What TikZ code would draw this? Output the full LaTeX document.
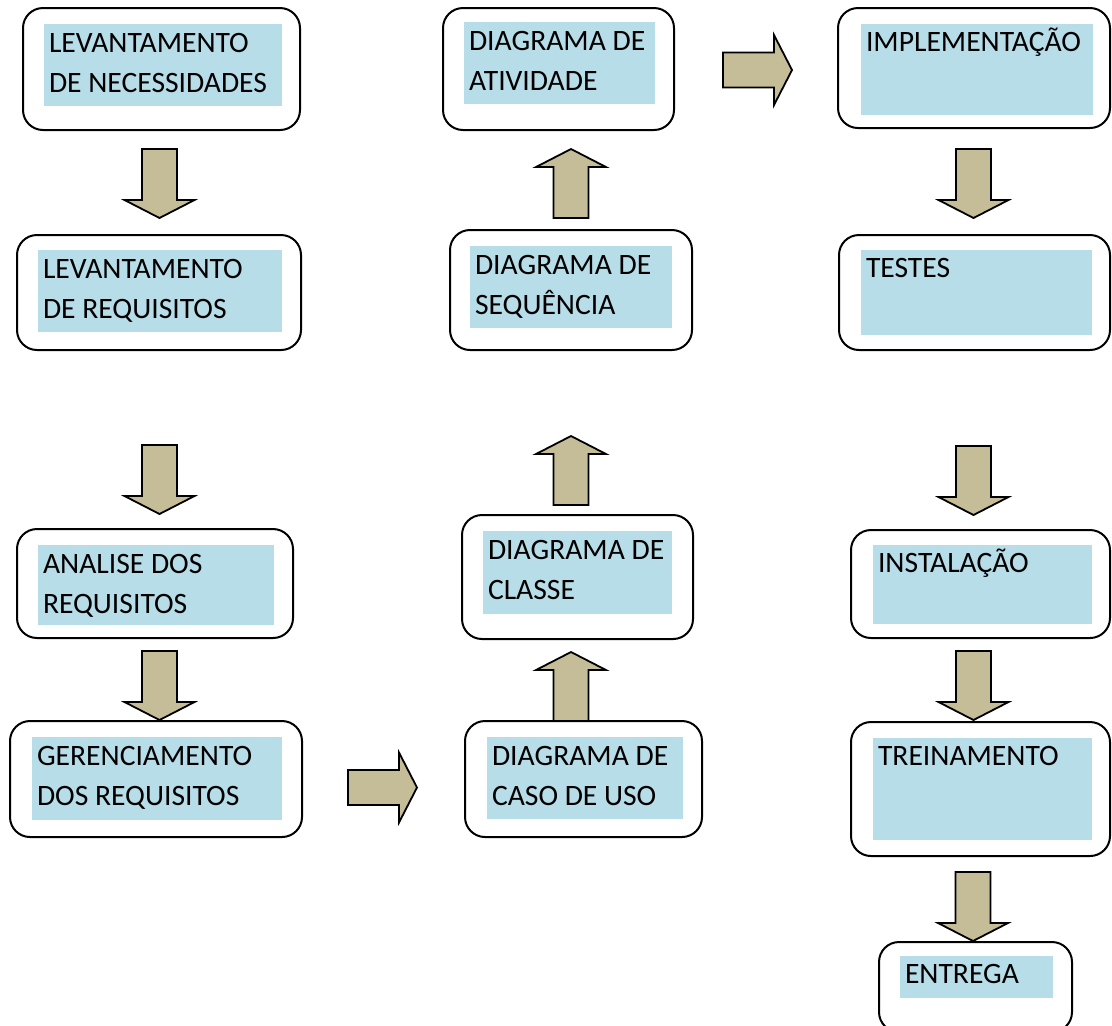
\documentclass[tikz,border=0pt]{standalone}
\usepackage{fontspec}
\setmainfont{Carlito}
\usetikzlibrary{fit}
\definecolor{stageblue}{RGB}{183,221,232}
\definecolor{arrowtan}{RGB}{196,189,151}
\tikzset{
  outerbox/.style={draw=black, line width=1pt, fill=white, rounded corners=10pt, inner sep=0pt},
  bluebox/.style={fill=stageblue, draw=none, inner sep=0pt},
  stagetext/.style={anchor=base west, inner sep=0pt, align=left,
    font=\fontsize{14.8}{20}\selectfont},
  pics/blockarrow/.style={code={
    \draw[line width=0.9pt, fill=arrowtan, line join=miter]
      (0,-17.5) -- (51,-17.5) -- (51,-35) -- (69,0) -- (51,35) -- (51,17.5) -- (0,17.5) -- cycle;
  }}
}
% #1 name, #2 outer corners, #3 inner corners, #4 text,
% #5 drop from the blue box top to the baseline of the last line
\newcommand\stage[5]{%
  \node[outerbox, fit={#2}] (#1) {};
  \node[bluebox, fit={#3}] (#1b) {};
  \node[stagetext] (#1t) at ([xshift=2.5pt, yshift=-#5]#1b.north west) {#4};
}
\begin{document}
\begin{tikzpicture}[x=0.5pt, y=-0.5pt]
\useasboundingbox (0,0) rectangle (1112,1025);

% left column
\stage{nec}{(23,8) (300,130)}{(44,24) (282,106)}{LEVANTAMENTO\\DE NECESSIDADES}{34.5pt}
\stage{req}{(17,235) (301,350)}{(38,250) (282,332)}{LEVANTAMENTO\\DE REQUISITOS}{34.5pt}
\stage{ana}{(17,529) (293,638)}{(38,545) (274,625)}{ANALISE DOS\\REQUISITOS}{34.5pt}
\stage{ger}{(10,721) (302,837)}{(32,737) (282,820)}{GERENCIAMENTO\\DOS REQUISITOS}{34.5pt}

% middle column
\stage{uso}{(465,721) (702,837)}{(487,737) (683,819)}{DIAGRAMA DE\\CASO DE USO}{34.5pt}
\stage{cla}{(462,515) (693,639)}{(483,531) (672,614)}{DIAGRAMA DE\\CLASSE}{34.5pt}
\stage{seq}{(450,230) (692,350)}{(470,246) (672,328)}{DIAGRAMA DE\\SEQUÊNCIA}{34.5pt}
\stage{ati}{(443,8) (674,130)}{(464,22) (655,104)}{DIAGRAMA DE\\ATIVIDADE}{34.5pt}

% right column
\stage{imp}{(838,8) (1110,128)}{(861,24) (1093,115)}{IMPLEMENTAÇÃO}{14pt}
\stage{tes}{(839,235) (1110,350)}{(861,250) (1092,335)}{TESTES}{14pt}
\stage{ins}{(851,530) (1110,638)}{(873,545) (1092,624)}{INSTALAÇÃO}{14pt}
\stage{tre}{(851,722) (1110,856)}{(873,738) (1092,840)}{TREINAMENTO}{14pt}
\stage{ent}{(879,942) (1072,1032)}{(900,956) (1053,998)}{ENTREGA}{14pt}

% block arrows between stages
\pic[rotate=-90] at (159.5,149) {blockarrow};
\pic[rotate=-90] at (159.5,445) {blockarrow};
\pic[rotate=-90] at (159.5,651) {blockarrow};
\pic at (348,787.5) {blockarrow};
\pic[rotate=90] at (571,721) {blockarrow};
\pic[rotate=90] at (571,505) {blockarrow};
\pic[rotate=90] at (571,218) {blockarrow};
\pic at (723,70) {blockarrow};
\pic[rotate=-90] at (973.5,149) {blockarrow};
\pic[rotate=-90] at (973.5,446) {blockarrow};
\pic[rotate=-90] at (973.5,651) {blockarrow};
\pic[rotate=-90] at (973,872) {blockarrow};
\end{tikzpicture}
\end{document}
